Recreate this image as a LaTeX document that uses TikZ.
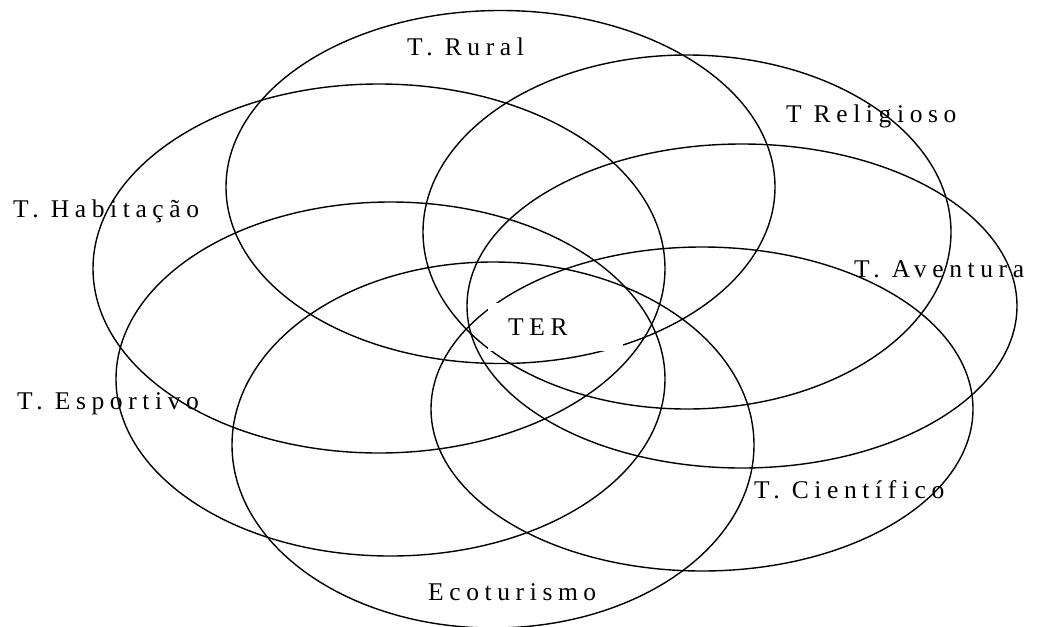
\documentclass[tikz,border=0pt]{standalone}
\usepackage{fontspec}
\setmainfont{Liberation Serif}[LetterSpace=22]
\begin{document}
\begin{tikzpicture}[x=1pt,y=-1pt,
  ring/.style={draw=black,line width=1.4pt},
  lbl/.style={anchor=base west,inner sep=0pt,font=\fontsize{25.5}{30}\selectfont}]
\useasboundingbox (0,0) rectangle (1037,627);
% circles of the diagram
\draw[ring] (500.5,187) ellipse [x radius=274.5, y radius=176.5];
\draw[ring] (379,268.5) ellipse [x radius=286, y radius=184.5];
\draw[ring] (687,232) ellipse [x radius=264, y radius=177];
\draw[ring] (742,306) ellipse [x radius=275, y radius=162];
\draw[ring] (390.5,379) ellipse [x radius=274.5, y radius=177];
\draw[ring] (493,445) ellipse [x radius=261, y radius=183];
\draw[ring] (702,409) ellipse [x radius=271, y radius=162];
% white patch behind the centre label
\fill[white] (488,303) rectangle (623,351);
\node[lbl] (ter) at (508,335) {TER};
\node[lbl] (rural) at (407,55) {T. Rural};
\node[lbl] (relig) at (786,122) {T Religioso};
\node[lbl] (habit) at (13,217) {T. Habitação};
\node[lbl] (avent) at (854,277) {T. Aventura};
\node[lbl] (esport) at (17,409) {T. Esportivo};
\node[lbl] (cient) at (754,498) {T. Científico};
\node[lbl] (eco) at (428,600) {Ecoturismo};
\end{tikzpicture}
\end{document}
